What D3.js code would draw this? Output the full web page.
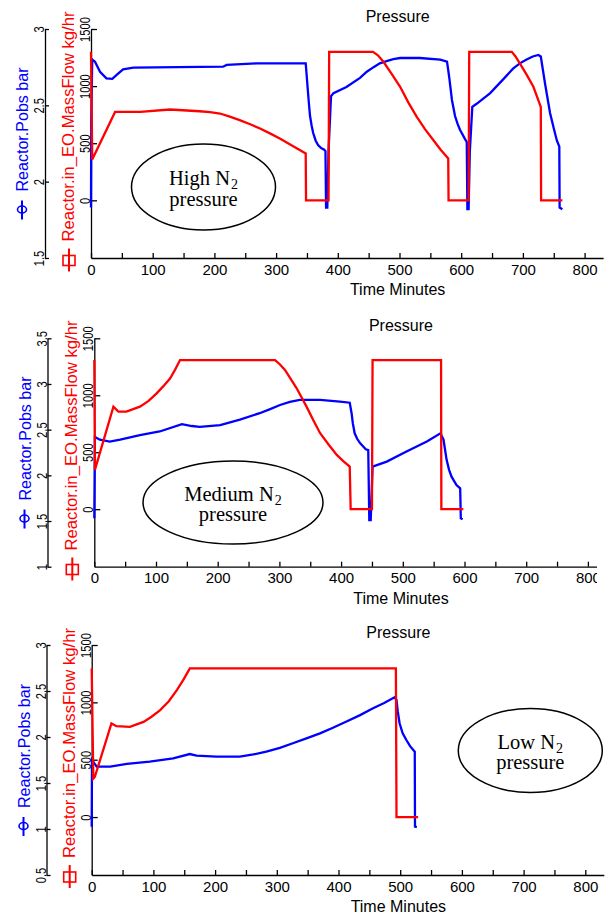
<!DOCTYPE html>
<html>
<head>
<meta charset="utf-8">
<script src="https://cdn.jsdelivr.net/npm/d3@7"></script>
<style>
  body { margin: 0; background: #fff; }
  text { font-family: "Liberation Sans", Arial, sans-serif; }
</style>
</head>
<body>
<script>
"use strict";

// [minutes, value]
const highPressure = [[0,1.83],[0.5,2.4],[2,2.8],[6.5,2.786],[14.6,2.72],[25,2.677],[34.5,2.673],[41.6,2.70],[52,2.736],[68.6,2.747],[214,2.753],[220,2.765],[269,2.775],[348,2.775],[349.5,2.70],[351,2.62],[353,2.52],[355,2.43],[357.5,2.37],[360,2.32],[364,2.27],[368,2.24],[373,2.22],[378,2.21],[380,2.2],[381,1.83],[383,1.83],[385,2.2],[389,2.56],[393,2.58],[414,2.62],[436,2.68],[447,2.72],[458,2.75],[468,2.775],[479,2.79],[490,2.803],[501,2.81],[533,2.81],[566,2.8],[577,2.786],[579,2.73],[581,2.67],[585,2.535],[590,2.43],[594,2.38],[598,2.34],[606,2.28],[609,2.26],[610,1.82],[612,1.82],[614,2.2],[618,2.49],[625,2.51],[647,2.58],[668,2.67],[684,2.74],[695,2.775],[706,2.8],[716,2.82],[725,2.83],[729,2.82],[736,2.64],[744,2.45],[750,2.35],[755,2.27],[759,2.23],[759.5,1.83],[764,1.82]];
const highFlow = [[0,1300],[2,357],[39,774],[80,775],[128,795],[176,780],[193,772],[209,760],[225,733],[241,702],[258,666],[274,629],[290,586],[306,541],[327,475],[348,410],[348.5,0],[385,0],[386,1300],[457,1300],[465,1270],[474,1213],[487,1110],[501,994],[514,860],[528,731],[541,625],[555,526],[567,440],[579,366],[579.5,0],[612,0],[613,1300],[682,1300],[688,1260],[695,1199],[706,1100],[717,994],[729,818],[729.5,0],[764,0]];

const mediumPressure = [[0,1.53],[1,2.42],[9,2.39],[25,2.37],[42,2.39],[74,2.44],[106,2.48],[142,2.56],[158,2.54],[171,2.53],[204,2.55],[236,2.61],[268,2.68],[285,2.725],[301,2.77],[317,2.805],[333,2.825],[366,2.825],[398,2.806],[414,2.795],[417,2.68],[419,2.57],[422,2.46],[426,2.4],[431,2.35],[440,2.285],[444,2.277],[445.7,1.51],[448,1.51],[451,2.095],[474,2.15],[506,2.26],[539,2.37],[561,2.46],[566,2.39],[571,2.17],[575,2.06],[579,1.985],[587,1.894],[593,1.858],[594,1.53],[597,1.52]];
const mediumFlow = [[0,1309],[1,345],[31,900],[39,856],[52,856],[74,900],[88,950],[101,1017],[112,1080],[123,1149],[131,1225],[139,1309],[293,1309],[301,1270],[309,1222],[318,1145],[328,1061],[344,900],[355,780],[366,667],[380,565],[393,476],[404,420],[414,374],[415.5,0],[450,0],[451,1309],[562,1309],[562.5,0],[598,0]];

const lowPressure = [[0,1.025],[0.5,1.75],[8,1.677],[30,1.677],[57,1.707],[94,1.732],[132,1.768],[159,1.815],[170,1.797],[202,1.786],[240,1.786],[262,1.81],[283,1.84],[305,1.882],[326,1.932],[348,1.985],[370,2.04],[391,2.1],[413,2.168],[435,2.238],[456,2.312],[474,2.37],[491,2.431],[494,2.402],[496,2.28],[499,2.149],[504,2.04],[510,1.967],[516,1.9],[523.6,1.84],[524,1.025],[527,1.02]];
const lowFlow = [[0,1296],[2.6,335],[5,349],[32,816],[40,792],[62,786],[84,830],[97,875],[111,932],[125,1010],[138,1107],[149,1200],[159,1296],[493,1296],[494,0],[529,0]];

const timeTicks = d3.range(0, 801, 50);
const flowTicks = [0, 500, 1000, 1500];
const highPressureTicks = [1.5, 2, 2.5, 3];
const mediumPressureTicks = [1, 1.5, 2, 2.5, 3, 3.5];
const lowPressureTicks = [0.5, 1, 1.5, 2, 2.5, 3];

const titleText = 'Pressure';
const xLabel = 'Time Minutes';
const pressureLabel = 'Reactor.Pobs bar';
const flowLabel = 'Reactor.in_EO.MassFlow kg/hr';

const svg = d3.select('body').append('svg')
    .attr('width', 608)
    .attr('height', 914);

function drawPanel(cfg) {
    const g = svg.append('g');
    if (cfg.clipRight) {
        svg.append('clipPath').attr('id', cfg.name + '-clip')
            .append('rect').attr('x', 0).attr('y', 0).attr('width', cfg.clipRight).attr('height', 914);
        g.attr('clip-path', `url(#${cfg.name}-clip)`);
    }

    const x = d3.scaleLinear().domain([0, 830]).range([cfg.x0, cfg.x0 + 830 * 0.617]);
    const yP = d3.scaleLinear().domain(cfg.pDomain).range([cfg.bottom, cfg.top]);
    const yF = d3.scaleLinear().domain([-505, 1500]).range([cfg.bottom, cfg.top]);

    // x axis, ticks pointing up
    const xa = g.append('g')
        .attr('transform', `translate(0,${cfg.bottom})`)
        .call(d3.axisBottom(x).tickValues(timeTicks).tickSize(-5).tickSizeOuter(0).tickPadding(6)
            .tickFormat(d => d % 100 === 0 ? d : ''));

    // outer pressure axis
    const pa = g.append('g')
        .attr('transform', `translate(${cfg.outerX},0)`)
        .call(d3.axisLeft(yP).tickValues(cfg.pTicks).tickSize(-4).tickSizeOuter(0).tickFormat(d => d));

    // inner flow axis
    const fa = g.append('g')
        .attr('transform', `translate(${cfg.x0},0)`)
        .call(d3.axisLeft(yF).tickValues(flowTicks).tickSize(-6).tickSizeOuter(0).tickFormat(d => d));

    [xa, pa, fa].forEach(a => {
        a.attr('font-family', null).attr('font-size', null);
        a.selectAll('path, line').attr('stroke', '#000').attr('stroke-width', 1.3);
        a.selectAll('text').attr('fill', '#000').style('font-size', '15px');
    });

    [pa, fa].forEach(a => {
        a.selectAll('text')
            .attr('x', null).attr('dy', null)
            .attr('text-anchor', 'middle')
            .style('font-size', '15.5px')
            .attr('transform', 'translate(-1,0) rotate(-90) scale(0.72,1)');
    });

    // lines
    const lineP = d3.line().x(d => x(d[0])).y(d => yP(d[1]));
    const lineF = d3.line().x(d => x(d[0])).y(d => yF(d[1]));

    g.append('path')
        .datum(cfg.pressure)
        .attr('d', lineP)
        .attr('fill', 'none')
        .attr('stroke', '#0000ff')
        .attr('stroke-width', 2.3);

    g.append('path')
        .datum(cfg.flow)
        .attr('d', lineF)
        .attr('fill', 'none')
        .attr('stroke', '#ff0000')
        .attr('stroke-width', 2.3);

    // title and x label
    g.append('text')
        .attr('x', x(497)).attr('y', cfg.top - 7.5)
        .attr('text-anchor', 'middle')
        .style('font-size', '16px')
        .text(titleText);

    g.append('text')
        .attr('x', x(497)).attr('y', cfg.bottom + 37)
        .attr('text-anchor', 'middle')
        .style('font-size', '16px')
        .text(xLabel);

    // rotated legend labels
    const c = (cfg.top + cfg.bottom) / 2;

    g.append('text')
        .attr('transform', `translate(${cfg.outerX - 17},${c + 48}) rotate(-90)`)
        .attr('fill', '#0000ff')
        .style('font-size', '16px')
        .attr('textLength', 124)
        .attr('lengthAdjust', 'spacingAndGlyphs')
        .text(pressureLabel);

    g.append('line')
        .attr('x1', cfg.outerX - 23).attr('x2', cfg.outerX - 23)
        .attr('y1', c + 57).attr('y2', c + 76)
        .attr('stroke', '#0000ff').attr('stroke-width', 2);
    g.append('ellipse')
        .attr('cx', cfg.outerX - 23).attr('cy', c + 66)
        .attr('rx', 4.5).attr('ry', 3.5)
        .attr('fill', 'none').attr('stroke', '#0000ff').attr('stroke-width', 1.6);

    g.append('text')
        .attr('transform', `translate(${cfg.x0 - 17},${c + 98}) rotate(-90)`)
        .attr('fill', '#ff0000')
        .style('font-size', '16px')
        .attr('textLength', 230)
        .attr('lengthAdjust', 'spacingAndGlyphs')
        .text(flowLabel);

    g.append('line')
        .attr('x1', cfg.x0 - 22).attr('x2', cfg.x0 - 22)
        .attr('y1', c + 105).attr('y2', c + 128)
        .attr('stroke', '#ff0000').attr('stroke-width', 2);
    g.append('rect')
        .attr('x', cfg.x0 - 28).attr('y', c + 112)
        .attr('width', 12).attr('height', 10)
        .attr('fill', 'none').attr('stroke', '#ff0000').attr('stroke-width', 1.6);

    // annotation bubble
    const e = cfg.bubble;
    g.append('ellipse')
        .attr('cx', e.cx).attr('cy', e.cy).attr('rx', e.rx).attr('ry', e.ry)
        .attr('fill', 'none').attr('stroke', '#000').attr('stroke-width', 1.5);

    const t1 = g.append('text')
        .attr('x', e.cx).attr('y', e.cy - 2)
        .attr('text-anchor', 'middle')
        .style('font-family', '"Liberation Serif", "Times New Roman", serif')
        .style('font-size', '20.5px');
    t1.append('tspan').text(cfg.level + ' N');
    t1.append('tspan').attr('dx', 1).attr('baseline-shift', '-4').style('font-size', '14px').text('2');

    g.append('text')
        .attr('x', e.cx).attr('y', e.cy + 18.5)
        .attr('text-anchor', 'middle')
        .style('font-family', '"Liberation Serif", "Times New Roman", serif')
        .style('font-size', '20.5px')
        .text('pressure');
}

drawPanel({
    name: 'high', level: 'High',
    top: 29, bottom: 258, outerX: 45, x0: 91,
    pDomain: [1.5, 3], pTicks: highPressureTicks,
    pressure: highPressure, flow: highFlow,
    bubble: {cx: 203.5, cy: 187, rx: 72, ry: 43}
});

drawPanel({
    name: 'medium', level: 'Medium',
    top: 338.3, bottom: 566.7, outerX: 47.5, x0: 94.3,
    pDomain: [1, 3.5], pTicks: mediumPressureTicks,
    pressure: mediumPressure, flow: mediumFlow,
    bubble: {cx: 233, cy: 502.5, rx: 90, ry: 41.5},
    clipRight: 597
});

drawPanel({
    name: 'low', level: 'Low',
    top: 645, bottom: 875, outerX: 46.5, x0: 91.7,
    pDomain: [0.5, 3], pTicks: lowPressureTicks,
    pressure: lowPressure, flow: lowFlow,
    bubble: {cx: 530.3, cy: 750.5, rx: 72, ry: 42}
});
</script>
</body>
</html>
